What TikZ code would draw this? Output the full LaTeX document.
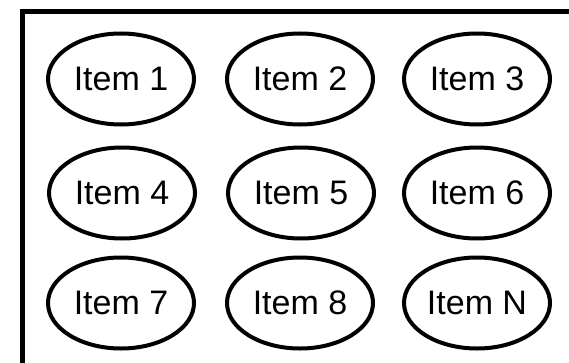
\documentclass[tikz,border=0pt]{standalone}
\usepackage{fontspec}
\setmainfont{Liberation Sans}
\usetikzlibrary{shapes.geometric}
\begin{document}
\begin{tikzpicture}[x=1pt,y=1pt,
  itembox/.style={draw=black, line width=4pt, ellipse, minimum width=146pt, minimum height=91pt, inner sep=0pt, font=\fontsize{34}{40}\selectfont},
  frameline/.style={draw=black, line width=5pt}]
\useasboundingbox (0,0) rectangle (569,362);
\fill[white] (0,0) rectangle (569,362);
\coordinate (fb) at (22.5,-3);
\coordinate (fc) at (22.5,350);
\coordinate (fr) at (572,350);
\draw[frameline] (fb) -- (fc) -- (fr);
\node[itembox] (i1) at (121,283) {Item 1};
\node[itembox] (i2) at (300,283) {Item 2};
\node[itembox] (i3) at (477,283) {Item 3};
\node[itembox] (i4) at (122,169) {Item 4};
\node[itembox] (i5) at (301,169) {Item 5};
\node[itembox] (i6) at (477,169) {Item 6};
\node[itembox] (i7) at (121,59) {Item 7};
\node[itembox] (i8) at (300,59) {Item 8};
\node[itembox] (iN) at (477,59) {Item N};
\end{tikzpicture}
\end{document}
